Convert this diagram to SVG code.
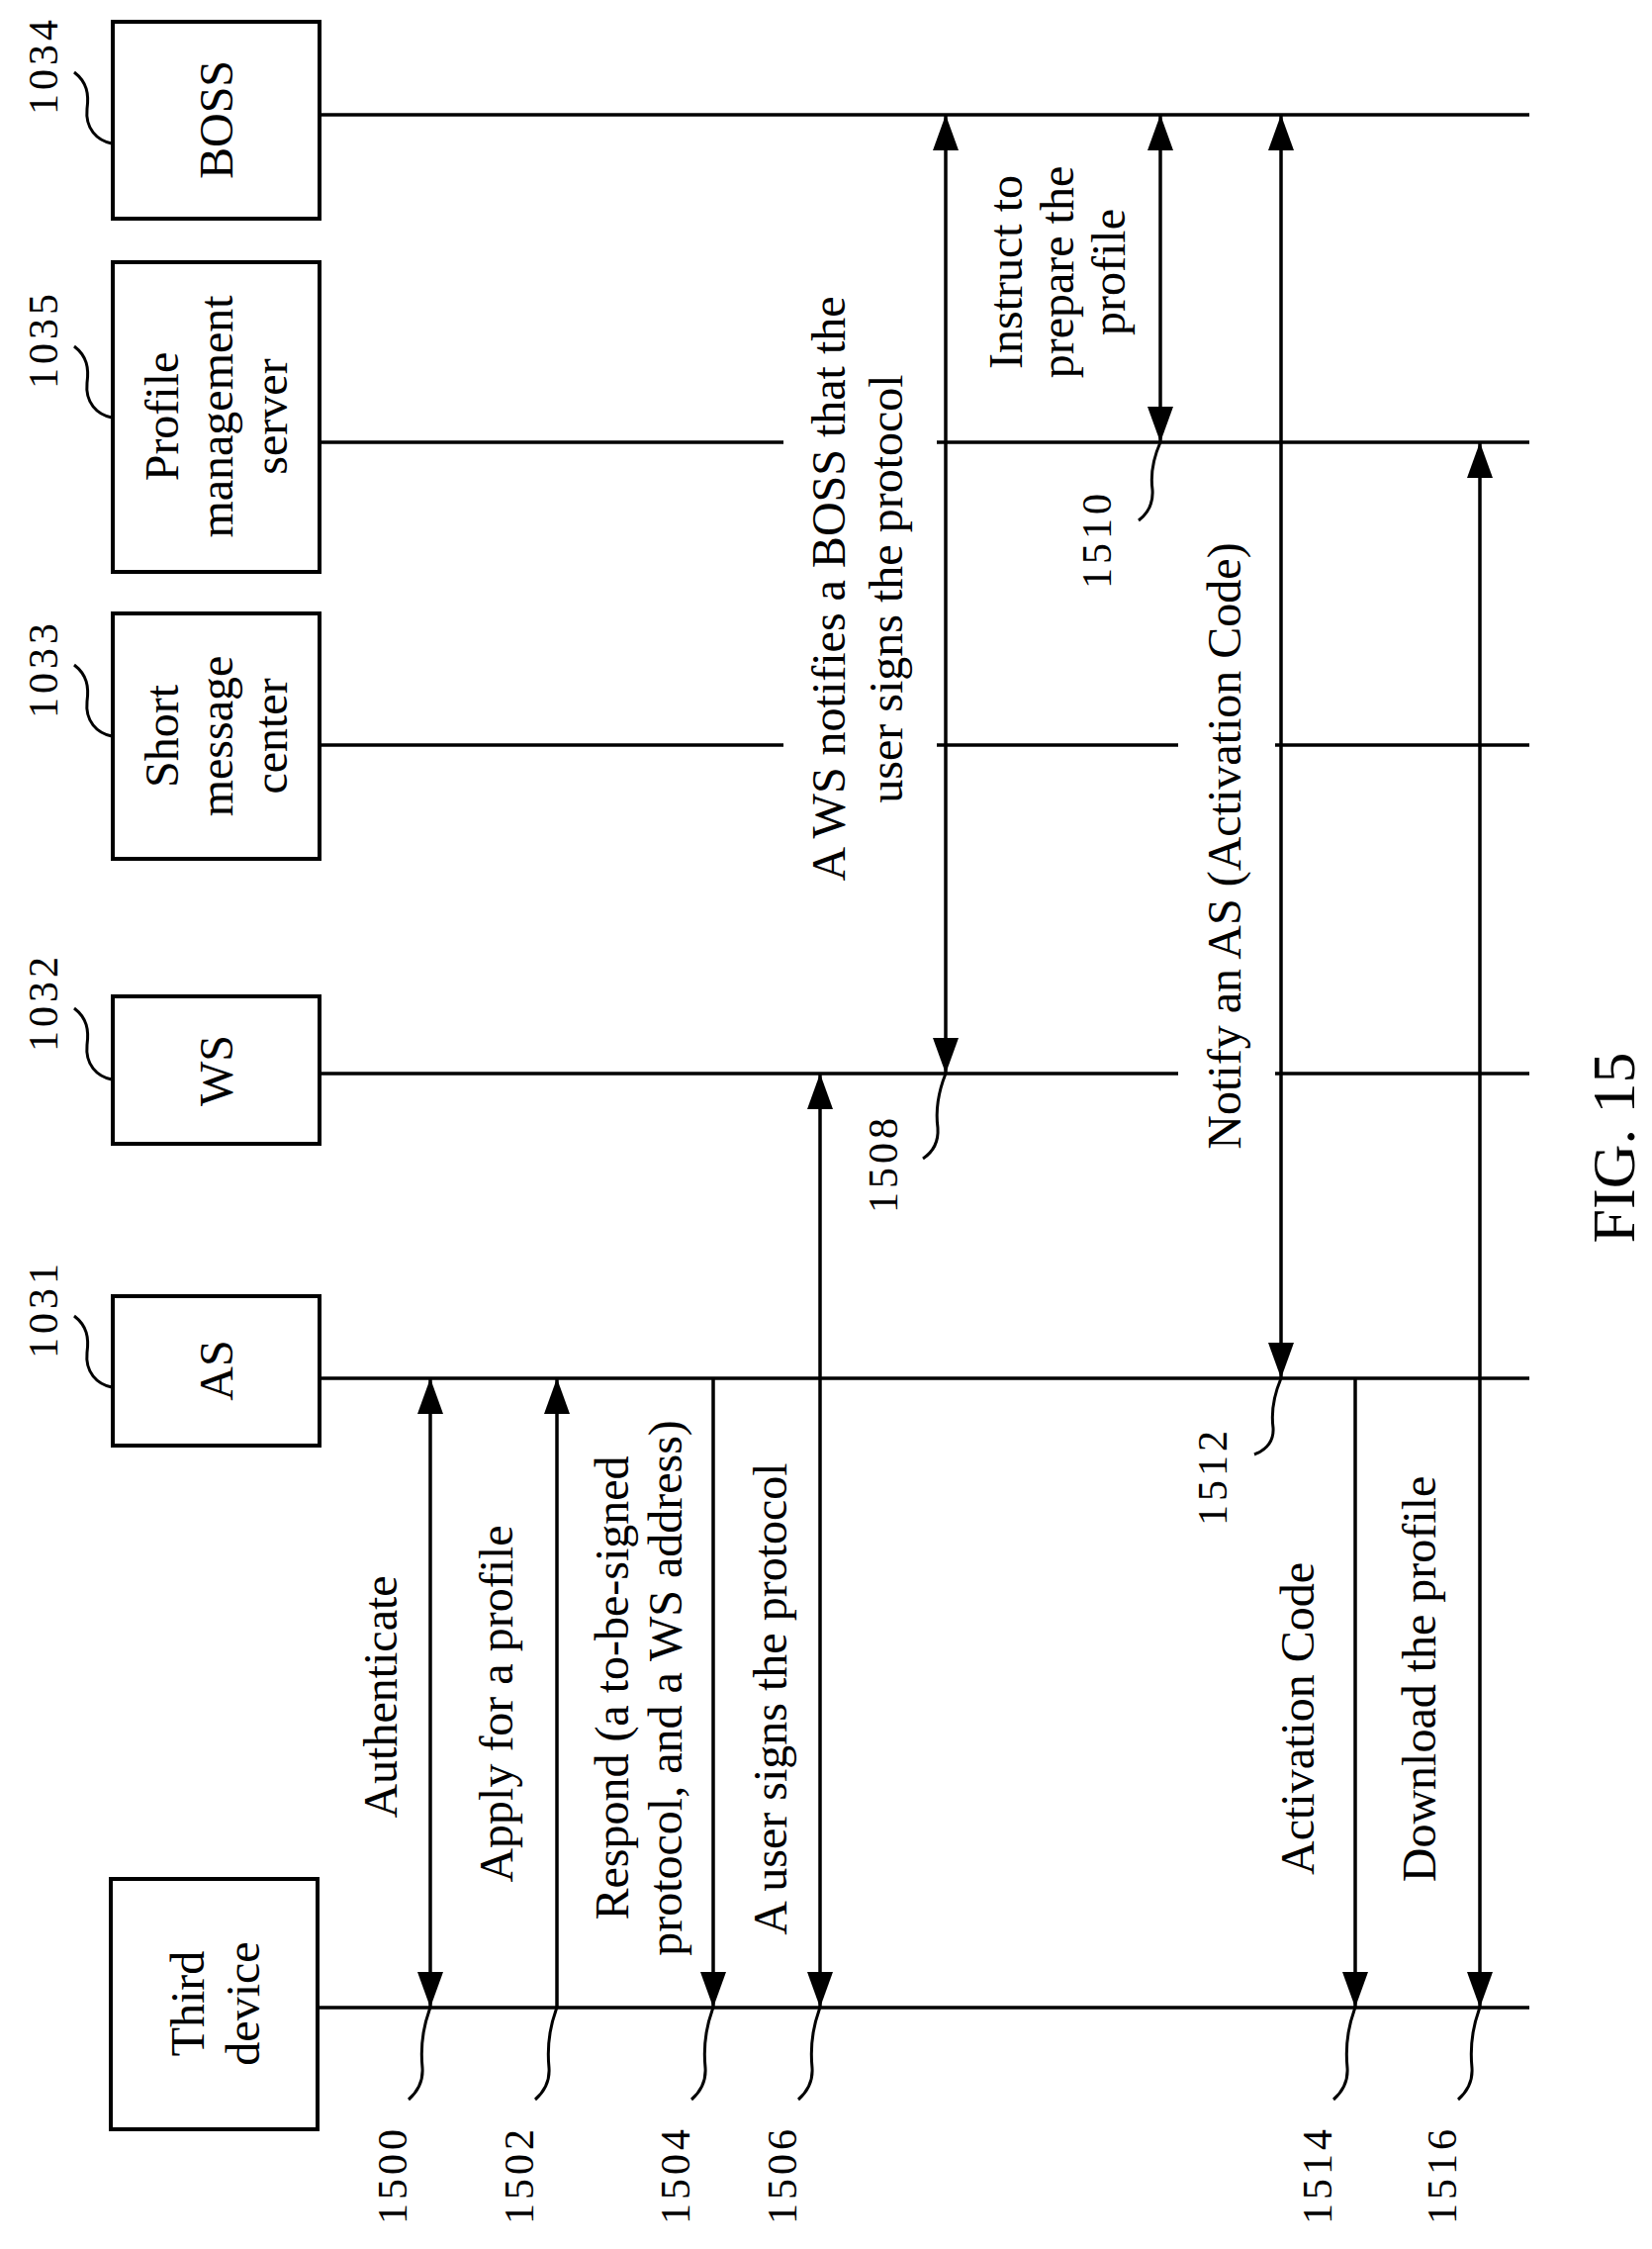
<svg xmlns="http://www.w3.org/2000/svg" width="1670" height="2273" viewBox="0 0 1670 2273">
<style>
text{font-family:"Liberation Serif","Times New Roman",serif;fill:#000;text-anchor:middle;dominant-baseline:central}
.t{font-size:48px}.n{font-size:42px;letter-spacing:4px}.f{font-size:62px}
.box{fill:#fff;stroke:#000;stroke-width:4}
.ln{stroke:#000;stroke-width:3.5;fill:none}
.ld{stroke:#000;stroke-width:3;fill:none}
</style>
<defs>
<marker id="ah" markerUnits="userSpaceOnUse" markerWidth="38" markerHeight="28" refX="36" refY="13" orient="auto-start-reverse"><path d="M0,0 L36,13 L0,26 Z" fill="#000"/></marker>
</defs>
<rect width="1670" height="2273" fill="#fff"/>
<g id="lifelines">
<line class="ln" x1="322" y1="116" x2="1546" y2="116"/>
<line class="ln" x1="322" y1="447" x2="792" y2="447"/><line class="ln" x1="947" y1="447" x2="1546" y2="447"/>
<line class="ln" x1="322" y1="753" x2="792" y2="753"/><line class="ln" x1="947" y1="753" x2="1191" y2="753"/><line class="ln" x1="1289" y1="753" x2="1546" y2="753"/>
<line class="ln" x1="322" y1="1085" x2="1191" y2="1085"/><line class="ln" x1="1289" y1="1085" x2="1546" y2="1085"/>
<line class="ln" x1="322" y1="1393" x2="1546" y2="1393"/>
<line class="ln" x1="322" y1="2029" x2="1546" y2="2029"/>
</g>
<g id="n1034"><rect class="box" x="114" y="22" width="209" height="199"/><text class="t" transform="translate(218,121) rotate(-90)">BOSS</text><text class="n" transform="translate(44,66) rotate(-90)">1034</text><path class="ld" d="M75,73 C88,83 90,95 88,110 C86,130 98,142 113,145"/></g>
<g id="n1035"><rect class="box" x="114" y="265" width="209" height="313"/><text class="t" transform="translate(163,421) rotate(-90)">Profile</text><text class="t" transform="translate(218,421) rotate(-90)">management</text><text class="t" transform="translate(273,421) rotate(-90)">server</text><text class="n" transform="translate(44,343) rotate(-90)">1035</text><path class="ld" d="M75,350 C88,360 90,372 88,387 C86,407 98,419 113,422"/></g>
<g id="n1033"><rect class="box" x="114" y="620" width="209" height="248"/><text class="t" transform="translate(163,744) rotate(-90)">Short</text><text class="t" transform="translate(218,744) rotate(-90)">message</text><text class="t" transform="translate(273,744) rotate(-90)">center</text><text class="n" transform="translate(44,676) rotate(-90)">1033</text><path class="ld" d="M75,672 C88,682 90,694 88,709 C86,729 98,741 113,744"/></g>
<g id="n1032"><rect class="box" x="114" y="1007" width="209" height="149"/><text class="t" transform="translate(218,1082) rotate(-90)">WS</text><text class="n" transform="translate(44,1013) rotate(-90)">1032</text><path class="ld" d="M75,1019 C88,1029 90,1041 88,1056 C86,1076 98,1088 113,1091"/></g>
<g id="n1031"><rect class="box" x="114" y="1310" width="209" height="151"/><text class="t" transform="translate(218,1385) rotate(-90)">AS</text><text class="n" transform="translate(44,1323) rotate(-90)">1031</text><path class="ld" d="M75,1330 C88,1340 90,1352 88,1367 C86,1387 98,1399 113,1402"/></g>
<g id="third"><rect class="box" x="112" y="1899" width="209" height="253"/><text class="t" transform="translate(189,2025) rotate(-90)">Third</text><text class="t" transform="translate(245,2025) rotate(-90)">device</text></g>
<g id="connectors">
<line class="ln" x1="435" y1="1393" x2="435" y2="2029" marker-start="url(#ah)" marker-end="url(#ah)"/>
<line class="ln" x1="563" y1="2029" x2="563" y2="1393" marker-end="url(#ah)"/>
<line class="ln" x1="721" y1="1393" x2="721" y2="2029" marker-end="url(#ah)"/>
<line class="ln" x1="829" y1="1085" x2="829" y2="2029" marker-start="url(#ah)" marker-end="url(#ah)"/>
<line class="ln" x1="956" y1="116" x2="956" y2="1085" marker-start="url(#ah)" marker-end="url(#ah)"/>
<line class="ln" x1="1173" y1="116" x2="1173" y2="447" marker-start="url(#ah)" marker-end="url(#ah)"/>
<line class="ln" x1="1295" y1="116" x2="1295" y2="1393" marker-start="url(#ah)" marker-end="url(#ah)"/>
<line class="ln" x1="1370" y1="1393" x2="1370" y2="2029" marker-end="url(#ah)"/>
<line class="ln" x1="1496" y1="447" x2="1496" y2="2029" marker-start="url(#ah)" marker-end="url(#ah)"/>
</g>
<g id="labels">
<text class="t" transform="translate(837,595) rotate(-90)">A WS notifies a BOSS that the</text>
<text class="t" transform="translate(895,595) rotate(-90)">user signs the protocol</text>
<text class="t" transform="translate(1016,275) rotate(-90)">Instruct to</text>
<text class="t" transform="translate(1068,275) rotate(-90)">prepare the</text>
<text class="t" transform="translate(1120,275) rotate(-90)">profile</text>
<text class="t" transform="translate(1237,855) rotate(-90)">Notify an AS (Activation Code)</text>
<text class="t" transform="translate(384,1715) rotate(-90)">Authenticate</text>
<text class="t" transform="translate(501,1722) rotate(-90)">Apply for a profile</text>
<text class="t" transform="translate(618,1706) rotate(-90)">Respond (a to-be-signed</text>
<text class="t" transform="translate(672,1706) rotate(-90)">protocol, and a WS address)</text>
<text class="t" transform="translate(778,1717) rotate(-90)">A user signs the protocol</text>
<text class="t" transform="translate(1311,1737) rotate(-90)">Activation Code</text>
<text class="t" transform="translate(1434,1697) rotate(-90)">Download the profile</text>
<text class="f" transform="translate(1631,1160) rotate(-90)">FIG. 15</text>
</g>
<g id="refs">
<path class="ld" d="M956,1085 C948,1105 946,1125 948,1140 C949,1155 942,1165 933,1171"/><text class="n" transform="translate(893,1176) rotate(-90)">1508</text>
<path class="ld" d="M1173,447 C1165,465 1163,480 1165,495 C1166,510 1159,520 1151,526"/><text class="n" transform="translate(1109,545) rotate(-90)">1510</text>
<path class="ld" d="M1295,1393 C1287,1412 1285,1428 1287,1443 C1288,1458 1278,1466 1268,1470"/><text class="n" transform="translate(1226,1492) rotate(-90)">1512</text>
<path class="ld" d="M435,2029 C427,2050 425,2070 427,2090 C428,2105 421,2115 413,2122"/><text class="n" transform="translate(397,2198) rotate(-90)">1500</text>
<path class="ld" d="M563,2029 C555,2050 553,2070 555,2090 C556,2105 549,2115 541,2122"/><text class="n" transform="translate(525,2198) rotate(-90)">1502</text>
<path class="ld" d="M721,2029 C713,2050 711,2070 713,2090 C714,2105 707,2115 699,2122"/><text class="n" transform="translate(683,2198) rotate(-90)">1504</text>
<path class="ld" d="M829,2029 C821,2050 819,2070 821,2090 C822,2105 815,2115 807,2122"/><text class="n" transform="translate(791,2198) rotate(-90)">1506</text>
<path class="ld" d="M1370,2029 C1362,2050 1360,2070 1362,2090 C1363,2105 1356,2115 1348,2122"/><text class="n" transform="translate(1332,2198) rotate(-90)">1514</text>
<path class="ld" d="M1496,2029 C1488,2050 1486,2070 1488,2090 C1489,2105 1482,2115 1474,2122"/><text class="n" transform="translate(1458,2198) rotate(-90)">1516</text>
</g>
</svg>
